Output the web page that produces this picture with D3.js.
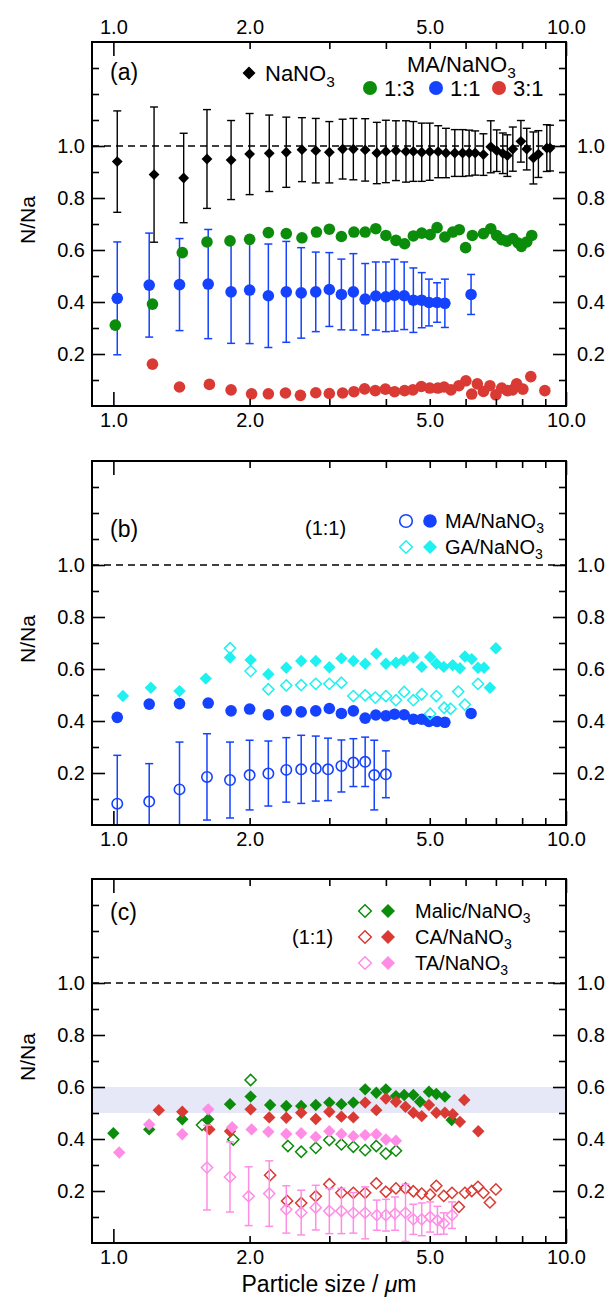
<!DOCTYPE html>
<html>
<head>
<meta charset="utf-8">
<script src="https://cdn.jsdelivr.net/npm/d3@7"></script>
<style>
  body { margin: 0; background: #fff; }
  svg { display: block; }
  text { font-family: "Liberation Sans", Arial, Helvetica, sans-serif; fill: #000; }
</style>
</head>
<body>
<svg id="chart" width="610" height="1298"></svg>
<script>
// ---- axis settings ----
const xDomain = [0.897, 10];
const yDomain = [0, 1.4];
const xLabelTicks = [1, 2, 5, 10];
const xMajorTicks = [1, 10];
const xMinorTicks = [2, 3, 4, 5, 6, 7, 8, 9];
const yLabelTicks = [0.2, 0.4, 0.6, 0.8, 1.0];
const yMinorTicks = [0.1, 0.3, 0.5, 0.7, 0.9, 1.1, 1.2, 1.3];
const refLevel = 1.0;
const bandRange = [0.5, 0.6];

// ---- (a) NaNO3 and MA/NaNO3 mixtures ----
const naSize = [1.02,1.23,1.43,1.61,1.82,2.0,2.21,2.41,2.61,2.8,3.0,3.21,3.39,3.6,3.82,4.0,4.21,4.43,4.6,4.8,5.0,5.22,5.43,5.68,5.91,6.11,6.3,6.57,6.82,7.03,7.25,7.42,7.63,7.95,8.19,8.47,8.69,9.07,9.22];
const naVal  = [0.94,0.89,0.877,0.95,0.946,0.969,0.972,0.976,0.986,0.982,0.976,0.988,0.988,0.985,0.973,0.979,0.982,0.979,0.979,0.976,0.978,0.978,0.973,0.973,0.973,0.973,0.973,0.967,0.997,0.982,0.972,0.963,0.988,1.018,0.988,0.954,0.969,0.992,0.992];
const naErr  = [0.195,0.26,0.172,0.19,0.152,0.156,0.147,0.135,0.123,0.124,0.118,0.115,0.118,0.12,0.118,0.12,0.115,0.118,0.115,0.112,0.11,0.1,0.095,0.09,0.09,0.088,0.085,0.08,0.1,0.08,0.078,0.08,0.085,0.08,0.08,0.1,0.09,0.09,0.088];

const ma13Size = [1.01,1.22,1.42,1.61,1.81,2.0,2.2,2.41,2.61,2.81,3.0,3.19,3.4,3.6,3.8,4.0,4.21,4.4,4.6,4.8,5.01,5.19,5.4,5.62,5.81,6.0,6.21,6.57,6.82,7.03,7.21,7.4,7.63,7.84,7.97,8.19,8.4];
const ma13Val  = [0.311,0.392,0.59,0.631,0.635,0.641,0.667,0.663,0.647,0.669,0.68,0.652,0.669,0.669,0.682,0.656,0.637,0.624,0.654,0.665,0.659,0.686,0.65,0.669,0.678,0.609,0.656,0.663,0.682,0.656,0.64,0.634,0.644,0.627,0.614,0.631,0.656];

const ma11Size = [1.02,1.2,1.4,1.62,1.82,2.0,2.2,2.41,2.6,2.8,3.0,3.19,3.39,3.6,3.8,4.0,4.18,4.39,4.6,4.8,4.98,5.19,5.4,6.17];
const ma11Val  = [0.414,0.465,0.467,0.469,0.439,0.446,0.424,0.439,0.435,0.439,0.448,0.429,0.439,0.411,0.423,0.42,0.426,0.424,0.407,0.407,0.398,0.398,0.395,0.429];
const ma11Err  = [0.217,0.2,0.177,0.21,0.198,0.206,0.199,0.194,0.174,0.153,0.142,0.136,0.147,0.137,0.131,0.134,0.138,0.13,0.124,0.106,0.09,0.076,0.093,0.077];

const ma31Size = [1.22,1.4,1.63,1.82,2.02,2.2,2.4,2.59,2.8,3.0,3.21,3.4,3.59,3.79,3.99,4.18,4.4,4.59,4.79,5.0,5.21,5.38,5.57,5.8,6.01,6.19,6.37,6.57,6.79,7.0,7.21,7.42,7.62,7.78,8.03,8.36,8.98];
const ma31Val  = [0.161,0.073,0.083,0.062,0.047,0.047,0.05,0.041,0.051,0.048,0.05,0.055,0.066,0.059,0.065,0.055,0.059,0.062,0.075,0.069,0.069,0.073,0.062,0.078,0.097,0.046,0.085,0.056,0.078,0.043,0.069,0.059,0.062,0.085,0.065,0.113,0.059];

// ---- (b) MA vs GA, 1:1 ----
const maOpenSize = [1.02,1.2,1.4,1.61,1.81,2.0,2.2,2.41,2.6,2.8,2.98,3.19,3.39,3.6,3.77,4.0];
const maOpenVal  = [0.082,0.09,0.137,0.185,0.173,0.192,0.198,0.212,0.214,0.217,0.214,0.227,0.24,0.243,0.192,0.195];
const maOpenErr  = [0.186,0.146,0.182,0.166,0.146,0.134,0.125,0.124,0.131,0.125,0.12,0.1,0.092,0.095,0.134,0.09];

const gaFillSize = [1.05,1.21,1.4,1.6,1.81,2.01,2.2,2.41,2.6,2.8,3.0,3.19,3.39,3.6,3.81,4.0,4.21,4.38,4.6,4.8,5.01,5.17,5.37,5.62,5.83,5.98,6.19,6.39,6.59,6.79,7.0];
const gaFillVal  = [0.496,0.528,0.515,0.563,0.644,0.635,0.58,0.605,0.631,0.631,0.607,0.641,0.631,0.62,0.659,0.62,0.624,0.633,0.644,0.608,0.646,0.62,0.608,0.615,0.603,0.648,0.638,0.605,0.605,0.528,0.68];

const gaOpenSize = [1.81,2.01,2.2,2.41,2.6,2.8,3.0,3.19,3.39,3.6,3.79,4.0,4.21,4.39,4.6,4.8,5.01,5.17,5.38,5.56,5.78,5.98,6.39];
const gaOpenVal  = [0.68,0.592,0.522,0.537,0.538,0.543,0.543,0.547,0.496,0.499,0.49,0.496,0.48,0.512,0.48,0.503,0.428,0.496,0.451,0.447,0.513,0.463,0.543];

// ---- (c) Malic, CA, TA, 1:1 ----
const malicFillSize = [1.0,1.2,1.42,1.62,1.81,2.01,2.22,2.41,2.6,2.8,3.0,3.19,3.39,3.6,3.81,4.0,4.21,4.39,4.6,4.76,4.98,5.17,5.4,5.59];
const malicFillVal  = [0.422,0.437,0.476,0.476,0.534,0.563,0.531,0.527,0.527,0.531,0.54,0.534,0.54,0.591,0.578,0.591,0.565,0.569,0.569,0.543,0.582,0.573,0.563,0.473];
const malicOpenSize = [1.57,1.84,2.01,2.43,2.6,2.8,3.0,3.19,3.39,3.6,3.81,4.0,4.21];
const malicOpenVal  = [0.454,0.398,0.627,0.373,0.351,0.366,0.396,0.379,0.37,0.357,0.373,0.344,0.355];

const caFillSize = [1.26,1.42,1.63,1.81,2.01,2.21,2.41,2.6,2.8,3.0,3.19,3.39,3.6,3.81,4.0,4.21,4.42,4.6,4.8,4.98,5.17,5.4,5.62,5.83,5.96,6.4];
const caFillVal  = [0.511,0.505,0.437,0.43,0.514,0.483,0.482,0.501,0.477,0.505,0.486,0.483,0.54,0.511,0.556,0.543,0.524,0.501,0.488,0.531,0.501,0.501,0.495,0.466,0.55,0.43];
const caOpenSize = [2.22,2.42,2.6,2.8,3.0,3.19,3.39,3.6,3.81,4.0,4.21,4.42,4.6,4.8,5.01,5.17,5.37,5.6,5.8,5.98,6.19,6.39,6.57,6.79,7.0];
const caOpenVal  = [0.261,0.162,0.154,0.18,0.226,0.193,0.193,0.193,0.229,0.197,0.21,0.21,0.199,0.19,0.186,0.22,0.181,0.193,0.139,0.193,0.2,0.216,0.193,0.156,0.206];

const taFillSize = [1.03,1.2,1.42,1.62,1.83,2.02,2.2,2.41,2.6,2.8,3.0,3.19,3.39,3.6,3.81,4.0,4.21];
const taFillVal  = [0.348,0.456,0.418,0.514,0.445,0.437,0.428,0.419,0.422,0.408,0.43,0.419,0.411,0.415,0.418,0.398,0.393];
const taOpenSize = [1.61,1.81,1.99,2.21,2.41,2.6,2.8,3.0,3.19,3.39,3.6,3.82,4.0,4.19,4.42,4.6,4.8,5.01,5.2,5.37,5.6];
const taOpenVal  = [0.29,0.254,0.18,0.19,0.129,0.117,0.136,0.123,0.123,0.116,0.116,0.107,0.107,0.113,0.116,0.091,0.091,0.1,0.087,0.075,0.107];
const taOpenErr  = [0.163,0.135,0.113,0.126,0.091,0.086,0.086,0.087,0.087,0.078,0.1,0.058,0.061,0.064,0.11,0.058,0.063,0.058,0.054,0.041,0.051];

// ---- colours ----
const C = {
  black: "#000000", green: "#0b8c0b", blue: "#1442ff", red: "#d93a33",
  cyan: "#1ff0f0", pink: "#ff8de6", band: "#e6e8f8"
};

// ---- layout ----
const frameLeft = 92, frameRight = 566, panelHeight = 364;
const panelTops = [42, 461, 879];

const svg = d3.select("#chart");
const x = d3.scaleLog().domain(xDomain).range([frameLeft, frameRight]);
const fmt = d3.format(".1f");

const rows = (s, v, e) => s.map((d, i) => ({ s: d, v: v[i], e: e ? e[i] : 0 }));
const diamond = r => `M0,${-r}L${r},0L0,${r}L${-r},0Z`;

function makePanel(idx) {
  const top = panelTops[idx];
  const bottom = top + panelHeight;
  const y = d3.scaleLinear().domain(yDomain).range([bottom, top]);
  const g = svg.append("g");
  const clipId = "clip" + idx;
  svg.append("clipPath").attr("id", clipId).append("rect")
    .attr("x", frameLeft).attr("y", top)
    .attr("width", frameRight - frameLeft).attr("height", panelHeight);
  const plot = g.append("g").attr("clip-path", `url(#${clipId})`);
  return { g, plot, y, top, bottom };
}

function styleAxis(sel) {
  sel.select(".domain").remove();
  sel.selectAll(".tick line").attr("stroke", "#000").attr("stroke-width", 1.6);
  sel.selectAll("text").attr("font-size", 20).attr("fill", "#000");
  sel.attr("font-family", null).attr("font-size", null);
}

function drawAxes(p, topLabels) {
  const { g, y, top, bottom } = p;
  // bottom axis
  g.append("g").attr("transform", `translate(0,${bottom})`)
    .call(d3.axisBottom(x).tickValues(xMajorTicks).tickSize(-14).tickFormat("")).call(styleAxis);
  g.append("g").attr("transform", `translate(0,${bottom})`)
    .call(d3.axisBottom(x).tickValues(xMinorTicks).tickSize(-7).tickFormat("")).call(styleAxis);
  g.append("g").attr("transform", `translate(0,${bottom})`)
    .call(d3.axisBottom(x).tickValues(xLabelTicks).tickSize(0).tickPadding(7).tickFormat(fmt)).call(styleAxis);
  // top axis
  g.append("g").attr("transform", `translate(0,${top})`)
    .call(d3.axisTop(x).tickValues(xMajorTicks).tickSize(-14).tickFormat("")).call(styleAxis);
  g.append("g").attr("transform", `translate(0,${top})`)
    .call(d3.axisTop(x).tickValues(xMinorTicks).tickSize(-7).tickFormat("")).call(styleAxis);
  if (topLabels) {
    g.append("g").attr("transform", `translate(0,${top})`)
      .call(d3.axisTop(x).tickValues(xLabelTicks).tickSize(0).tickPadding(8).tickFormat(fmt)).call(styleAxis);
  }
  // left axis
  g.append("g").attr("transform", `translate(${frameLeft},0)`)
    .call(d3.axisLeft(y).tickValues(yLabelTicks).tickSize(-13).tickPadding(7).tickFormat(fmt)).call(styleAxis);
  g.append("g").attr("transform", `translate(${frameLeft},0)`)
    .call(d3.axisLeft(y).tickValues(yMinorTicks).tickSize(-7).tickFormat("")).call(styleAxis);
  // right axis
  g.append("g").attr("transform", `translate(${frameRight},0)`)
    .call(d3.axisRight(y).tickValues(yLabelTicks).tickSize(-13).tickPadding(11).tickFormat(fmt)).call(styleAxis);
  g.append("g").attr("transform", `translate(${frameRight},0)`)
    .call(d3.axisRight(y).tickValues(yMinorTicks).tickSize(-7).tickFormat("")).call(styleAxis);
  // y title
  g.append("text")
    .attr("transform", `translate(28,${(top + bottom) / 2 - 4}) rotate(-90)`)
    .attr("text-anchor", "middle").attr("dy", "0.35em")
    .attr("font-size", 21).text("N/Na");
}

function drawRef(p) {
  p.plot.append("line")
    .attr("x1", x.range()[0]).attr("x2", x.range()[1])
    .attr("y1", p.y(refLevel)).attr("y2", p.y(refLevel))
    .attr("stroke", "#000").attr("stroke-width", 1.6).attr("stroke-dasharray", "7,5");
}

function drawFrame(p) {
  p.g.append("rect")
    .attr("x", frameLeft).attr("y", p.top)
    .attr("width", frameRight - frameLeft).attr("height", panelHeight)
    .attr("fill", "none").attr("stroke", "#000").attr("stroke-width", 2);
}

function errorBars(p, data, color, w) {
  const cap = 4;
  const gg = p.plot.append("g").attr("stroke", color).attr("stroke-width", w || 1.5).attr("fill", "none");
  data.forEach(d => {
    const cx = x(d.s), y1 = p.y(d.v + d.e), y2 = p.y(d.v - d.e);
    gg.append("line").attr("x1", cx).attr("x2", cx).attr("y1", y1).attr("y2", y2);
    gg.append("line").attr("x1", cx - cap).attr("x2", cx + cap).attr("y1", y1).attr("y2", y1);
    gg.append("line").attr("x1", cx - cap).attr("x2", cx + cap).attr("y1", y2).attr("y2", y2);
  });
}

function circles(p, data, color, open) {
  p.plot.append("g").selectAll("circle").data(data).join("circle")
    .attr("cx", d => x(d.s)).attr("cy", d => p.y(d.v))
    .attr("r", open ? 5.2 : 5.8)
    .attr("fill", open ? "none" : color)
    .attr("stroke", open ? color : "none")
    .attr("stroke-width", open ? 1.6 : 0);
}

function diamonds(p, data, color, open, r) {
  p.plot.append("g").selectAll("path").data(data).join("path")
    .attr("transform", d => `translate(${x(d.s)},${p.y(d.v)})`)
    .attr("d", diamond(r || (open ? 5.6 : 6.2)))
    .attr("fill", open ? "none" : color)
    .attr("stroke", open ? color : "none")
    .attr("stroke-width", open ? 1.5 : 0);
}

function subLabel(g, xPos, yPos, main, size) {
  const fs = size || 20;
  const t = g.append("text").attr("x", xPos).attr("y", yPos).attr("font-size", fs);
  t.append("tspan").text(main);
  t.append("tspan").attr("font-size", fs * 0.7).attr("dy", fs * 0.25).text("3");
  return t;
}

// ================= panel (a) =================
const pa = makePanel(0);
drawAxes(pa, true);
drawRef(pa);
errorBars(pa, rows(naSize, naVal, naErr), C.black, 1.4);
errorBars(pa, rows(ma11Size, ma11Val, ma11Err), C.blue, 1.5);
circles(pa, rows(ma11Size, ma11Val), C.blue, false);
circles(pa, rows(ma13Size, ma13Val), C.green, false);
circles(pa, rows(ma31Size, ma31Val), C.red, false);
diamonds(pa, rows(naSize, naVal), C.black, false, 5.4);
drawFrame(pa);

// legend (a)
pa.g.append("text").attr("x", 110).attr("y", 80).attr("font-size", 23).text("(a)");
pa.g.append("path").attr("transform", "translate(249,73)").attr("d", diamond(6.5)).attr("fill", C.black);
subLabel(pa.g, 265, 81, "NaNO", 22);
subLabel(pa.g, 407, 72, "MA/NaNO", 22);
[[C.green, "1:3", 370], [C.blue, "1:1", 436], [C.red, "3:1", 499]].forEach(([c, t, cx]) => {
  pa.g.append("circle").attr("cx", cx).attr("cy", 88).attr("r", 7).attr("fill", c);
  pa.g.append("text").attr("x", cx + 14).attr("y", 96).attr("font-size", 22).text(t);
});

// ================= panel (b) =================
const pb = makePanel(1);
drawAxes(pb, false);
drawRef(pb);
errorBars(pb, rows(maOpenSize, maOpenVal, maOpenErr), C.blue, 1.5);
circles(pb, rows(maOpenSize, maOpenVal), C.blue, true);
circles(pb, rows(ma11Size, ma11Val), C.blue, false);
diamonds(pb, rows(gaOpenSize, gaOpenVal), C.cyan, true);
diamonds(pb, rows(gaFillSize, gaFillVal), C.cyan, false);
drawFrame(pb);

// legend (b)
pb.g.append("text").attr("x", 110).attr("y", 537).attr("font-size", 23).text("(b)");
pb.g.append("text").attr("x", 305).attr("y", 535).attr("font-size", 20).text("(1:1)");
pb.g.append("circle").attr("cx", 406).attr("cy", 521).attr("r", 6.3).attr("fill", "none").attr("stroke", C.blue).attr("stroke-width", 1.6);
pb.g.append("circle").attr("cx", 430).attr("cy", 521).attr("r", 6.8).attr("fill", C.blue);
subLabel(pb.g, 445, 528, "MA/NaNO");
pb.g.append("path").attr("transform", "translate(406,547)").attr("d", diamond(6.3)).attr("fill", "none").attr("stroke", C.cyan).attr("stroke-width", 1.5);
pb.g.append("path").attr("transform", "translate(430,547)").attr("d", diamond(7)).attr("fill", C.cyan);
subLabel(pb.g, 445, 554, "GA/NaNO");

// ================= panel (c) =================
const pc = makePanel(2);
pc.plot.append("rect")
  .attr("x", x.range()[0]).attr("width", x.range()[1] - x.range()[0])
  .attr("y", pc.y(bandRange[1])).attr("height", pc.y(bandRange[0]) - pc.y(bandRange[1]))
  .attr("fill", C.band);
drawAxes(pc, false);
drawRef(pc);
diamonds(pc, rows(malicOpenSize, malicOpenVal), C.green, true);
diamonds(pc, rows(malicFillSize, malicFillVal), C.green, false);
diamonds(pc, rows(caOpenSize, caOpenVal), C.red, true);
diamonds(pc, rows(caFillSize, caFillVal), C.red, false);
errorBars(pc, rows(taOpenSize, taOpenVal, taOpenErr), C.pink, 1.5);
diamonds(pc, rows(taOpenSize, taOpenVal), C.pink, true);
diamonds(pc, rows(taFillSize, taFillVal), C.pink, false);
drawFrame(pc);

// legend (c)
pc.g.append("text").attr("x", 110).attr("y", 920).attr("font-size", 23).text("(c)");
pc.g.append("text").attr("x", 292).attr("y", 944).attr("font-size", 20).text("(1:1)");
[[C.green, "Malic/NaNO", 911], [C.red, "CA/NaNO", 937], [C.pink, "TA/NaNO", 963]].forEach(([c, t, cy]) => {
  pc.g.append("path").attr("transform", `translate(365,${cy})`).attr("d", diamond(6.3))
    .attr("fill", "none").attr("stroke", c).attr("stroke-width", 1.5);
  pc.g.append("path").attr("transform", `translate(388,${cy})`).attr("d", diamond(7)).attr("fill", c);
  subLabel(pc.g, 415, cy + 7, t);
});

// x title
const xt = svg.append("text").attr("x", (frameLeft + frameRight) / 2).attr("y", 1292)
  .attr("text-anchor", "middle").attr("font-size", 23);
xt.append("tspan").text("Particle size / ");
xt.append("tspan").attr("font-style", "italic").text("\u03bc");
xt.append("tspan").text("m");
</script>
</body>
</html>
